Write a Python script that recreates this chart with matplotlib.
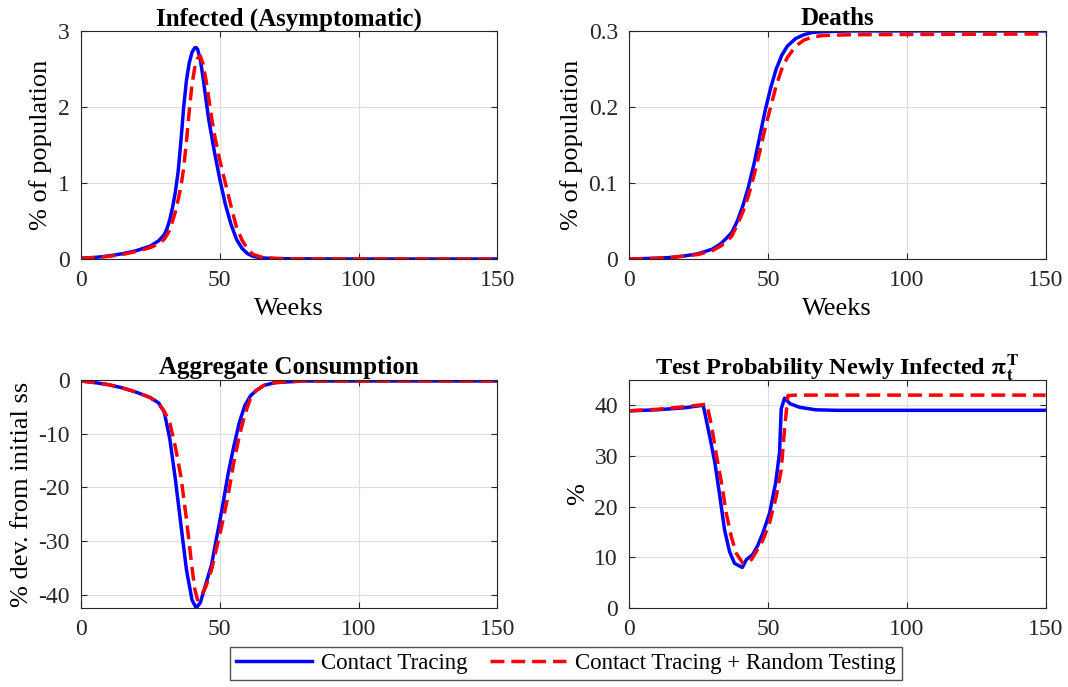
import matplotlib
matplotlib.use('Agg')
import matplotlib.pyplot as plt

plt.rcParams['font.family'] = ['Liberation Serif', 'DejaVu Serif']
plt.rcParams['mathtext.fontset'] = 'stix'
plt.rcParams['axes.unicode_minus'] = False

# Infected (asymptomatic), % of population
inf_wk_ct = [0, 5, 10, 15, 20, 25, 28, 30, 31, 32, 33, 34, 35, 36, 37, 38, 39, 40, 41, 41.5, 42, 43, 44, 45, 46, 48, 50, 52, 54, 56, 58, 60, 62, 65, 70, 80, 100, 150]
inf_ct = [0.01, 0.02, 0.04, 0.07, 0.11, 0.17, 0.24, 0.32, 0.4, 0.52, 0.68, 0.88, 1.15, 1.55, 2.0, 2.35, 2.58, 2.72, 2.78, 2.78, 2.76, 2.62, 2.38, 2.1, 1.84, 1.42, 1.05, 0.72, 0.46, 0.26, 0.14, 0.07, 0.035, 0.015, 0.005, 0.002, 0.0, 0.0]
inf_wk_rt = [0, 5, 10, 15, 20, 25, 28, 30, 32, 33, 34, 35, 36, 37, 38, 39, 40, 41, 42, 43, 44, 45, 46, 47, 48, 50, 52, 54, 56, 58, 60, 62, 65, 70, 80, 150]
inf_rt = [0.01, 0.02, 0.035, 0.06, 0.1, 0.15, 0.2, 0.26, 0.38, 0.5, 0.62, 0.78, 0.95, 1.2, 1.55, 1.95, 2.3, 2.52, 2.64, 2.67, 2.56, 2.36, 2.12, 1.87, 1.65, 1.3, 1.0, 0.7, 0.42, 0.25, 0.13, 0.06, 0.025, 0.008, 0.002, 0.0]

# Deaths, % of population
dth_wk = [0, 5, 10, 15, 20, 25, 30, 33, 35, 37, 39, 41, 43, 45, 47, 49, 51, 53, 55, 57, 60, 63, 66, 70, 80, 150]
dth_ct = [0, 0.0005, 0.001, 0.002, 0.004, 0.007, 0.013, 0.02, 0.027, 0.035, 0.05, 0.07, 0.095, 0.125, 0.16, 0.195, 0.225, 0.25, 0.268, 0.28, 0.29, 0.295, 0.298, 0.299, 0.3, 0.3]
dth_rt = [0, 0.0005, 0.001, 0.002, 0.004, 0.006, 0.011, 0.017, 0.023, 0.03, 0.045, 0.062, 0.083, 0.11, 0.14, 0.172, 0.2, 0.228, 0.25, 0.265, 0.28, 0.288, 0.292, 0.294, 0.295, 0.296]

# Aggregate consumption, % dev. from initial ss
con_wk_ct = [0, 5, 10, 15, 20, 25, 28, 30, 32, 34, 36, 38, 40, 41.5, 43, 45, 47, 49, 51, 53, 55, 57, 59, 61, 63, 66, 70, 80, 100, 150]
con_ct = [-0.2, -0.5, -0.9, -1.5, -2.3, -3.3, -4.3, -6, -11, -18.5, -27, -35.4, -41, -42.5, -41.5, -38, -34.5, -29, -23.5, -17.5, -12.5, -8, -4.8, -3, -2, -1.0, -0.5, -0.2, -0.2, -0.2]
con_wk_rt = [0, 5, 10, 15, 20, 25, 28, 30, 32, 34, 36, 38, 40, 41, 42, 43, 45, 47, 49, 51, 53, 55, 57, 59, 61, 63, 66, 70, 80, 150]
con_rt = [-0.2, -0.5, -0.9, -1.5, -2.3, -3.3, -4.5, -5.8, -8, -12.5, -18, -26, -35, -39, -41, -40.5, -38.5, -35.4, -31, -26.5, -21.5, -15.5, -10.5, -6.5, -3.5, -2, -1, -0.5, -0.2, -0.2]

# Test probability newly infected, %
tst_wk_ct = [0, 10, 20, 26.7, 29, 30.9, 32.7, 34.4, 36.2, 38, 40.8, 42.2, 44.6, 46.4, 48.2, 50.6, 52.8, 54.2, 54.8, 56, 58, 61.4, 67.3, 75, 150]
tst_ct = [38.9, 39.1, 39.5, 40.0, 34, 28.7, 22, 15.4, 11.1, 8.8, 8.0, 9.5, 10.6, 12.4, 14.8, 18.7, 24.7, 30.7, 39.3, 41.4, 40.3, 39.6, 39.1, 39.0, 39.0]
tst_wk_rt = [0, 10, 20, 28, 29.7, 31.5, 33.3, 35, 36.8, 38.6, 41, 44, 45.8, 48.2, 50.6, 53, 54.8, 56, 57.2, 60, 150]
tst_rt = [38.9, 39.2, 39.7, 40.2, 36, 30, 24.7, 18.7, 14.1, 10.8, 8.8, 9.5, 11.1, 13.4, 16.8, 22, 27.3, 35.3, 41.9, 42.0, 42.0]

fig = plt.figure(figsize=(10.68, 6.87), dpi=100)
left_x = [0.0758, 0.589]
bot_y = [0.623, 0.115]
w, h = 0.390, 0.332

panels = [
    ('Infected (Asymptomatic)', inf_wk_ct, inf_ct, inf_wk_rt, inf_rt, (0, 3), [0, 1, 2, 3], ['0', '1', '2', '3'], '% of population', True),
    ('Deaths', dth_wk, dth_ct, dth_wk, dth_rt, (0, 0.3), [0, 0.1, 0.2, 0.3], ['0', '0.1', '0.2', '0.3'], '% of population', True),
    ('Aggregate Consumption', con_wk_ct, con_ct, con_wk_rt, con_rt, (-42.5, 0), [-40, -30, -20, -10, 0], ['-40', '-30', '-20', '-10', '0'], '% dev. from initial ss', False),
    (r'Test Probability Newly Infected $\mathbf{\pi_t^T}$', tst_wk_ct, tst_ct, tst_wk_rt, tst_rt, (0, 45), [0, 10, 20, 30, 40], ['0', '10', '20', '30', '40'], '%', False),
]

for i, (title, xb, yb, xr, yr, ylim, yticks, ylabs, ylab, weeks) in enumerate(panels):
    ax = fig.add_axes([left_x[i % 2], bot_y[i // 2], w, h])
    l1, = ax.plot(xb, yb, color=(0, 0, 1), lw=2.5, label='Contact Tracing')
    l2, = ax.plot(xr, yr, color=(1, 0, 0), lw=2.5, ls=(0, (4, 2)), label='Contact Tracing + Random Testing')
    ax.set_xlim(0, 150)
    ax.set_ylim(*ylim)
    ax.set_xticks([0, 50, 100, 150])
    ax.set_yticks(yticks)
    ax.set_yticklabels(ylabs)
    ax.grid(True, color='#dedede', lw=0.8)
    ax.set_axisbelow(True)
    ax.tick_params(direction='in', labelsize=17, length=4, pad=8, top=True, right=True,
                   labeltop=False, labelright=False, colors='#262626')
    ax.set_title(title, fontsize=18 if i < 3 else 17.5, fontweight='bold', pad=4)
    ax.set_ylabel(ylab, fontsize=19, labelpad=4)
    if weeks:
        ax.set_xlabel('Weeks', fontsize=19, labelpad=5)
    for s in ax.spines.values():
        s.set_color('#262626')
        s.set_linewidth(0.8)

fig.legend([l1, l2], ['Contact Tracing', 'Contact Tracing + Random Testing'],
           loc='center', bbox_to_anchor=(0.53, 0.034), ncol=2, fontsize=16.5,
           frameon=True, fancybox=False, edgecolor='#262626', handlelength=3.3,
           columnspacing=1.0, handletextpad=0.4, borderpad=0.25, borderaxespad=0)

fig.savefig('out.png', dpi=100)
